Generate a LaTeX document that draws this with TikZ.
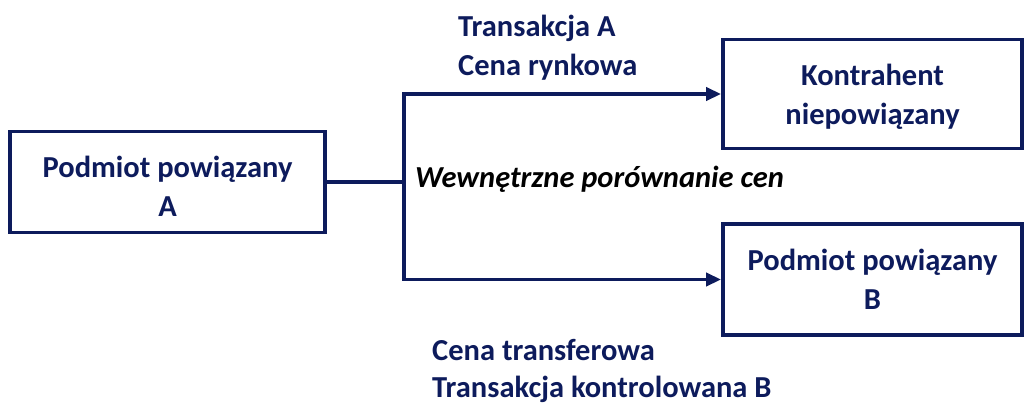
\documentclass[tikz,border=0pt]{standalone}
\usepackage{fontspec}
\setmainfont{Carlito}
\usetikzlibrary{arrows.meta}
\definecolor{navy}{HTML}{0D1B5C}
\tikzset{
  txt/.style={font=\fontsize{30.5}{39}\selectfont\bfseries},
  box/.style={draw=navy, line width=3.8pt, text=navy, txt, align=center, inner sep=0pt},
  conn/.style={draw=navy, line width=3.8pt},
  arr/.style={conn, -{Triangle[length=15pt,width=13pt]}},
  lbl/.style={text=navy, txt, anchor=base west, inner sep=0pt},
}
\newcommand{\twolines}[3]{\raisebox{#3}[\height][\depth]{\begin{tabular}{@{}c@{}}#1\\#2\end{tabular}}}
\begin{document}
\begin{tikzpicture}[x=1pt,y=-1pt]
\useasboundingbox[fill=white] (0,0) rectangle (1026,405);
\node[box, minimum width=315pt, minimum height=101pt] (A) at (167.5,182) {\twolines{Podmiot powiązany}{A}{-7pt}};
\node[box, minimum width=299pt, minimum height=109pt] (K) at (872.5,94) {\twolines{Kontrahent}{niepowiązany}{-3pt}};
\node[box, minimum width=299pt, minimum height=111pt] (B) at (872.5,279.5) {\twolines{Podmiot powiązany}{B}{-2.5pt}};
\coordinate (v) at (404,0);
\draw[conn] (A.east) -- (A.east -| v);
\draw[arr] (B.west -| v) |- (K.west);
\draw[arr] (K.west -| v) |- (B.west);
\node[lbl] (t1) at (458,36) {Transakcja A};
\node[lbl] (t2) at (458,75) {Cena rynkowa};
\node[lbl, text=black, font=\fontsize{30.5}{39}\selectfont\bfseries\itshape] (w) at (415,187) {Wewnętrzne porównanie cen};
\node[lbl] (b1) at (432,360) {Cena transferowa};
\node[lbl] (b2) at (432,397) {Transakcja kontrolowana B};
\end{tikzpicture}
\end{document}
